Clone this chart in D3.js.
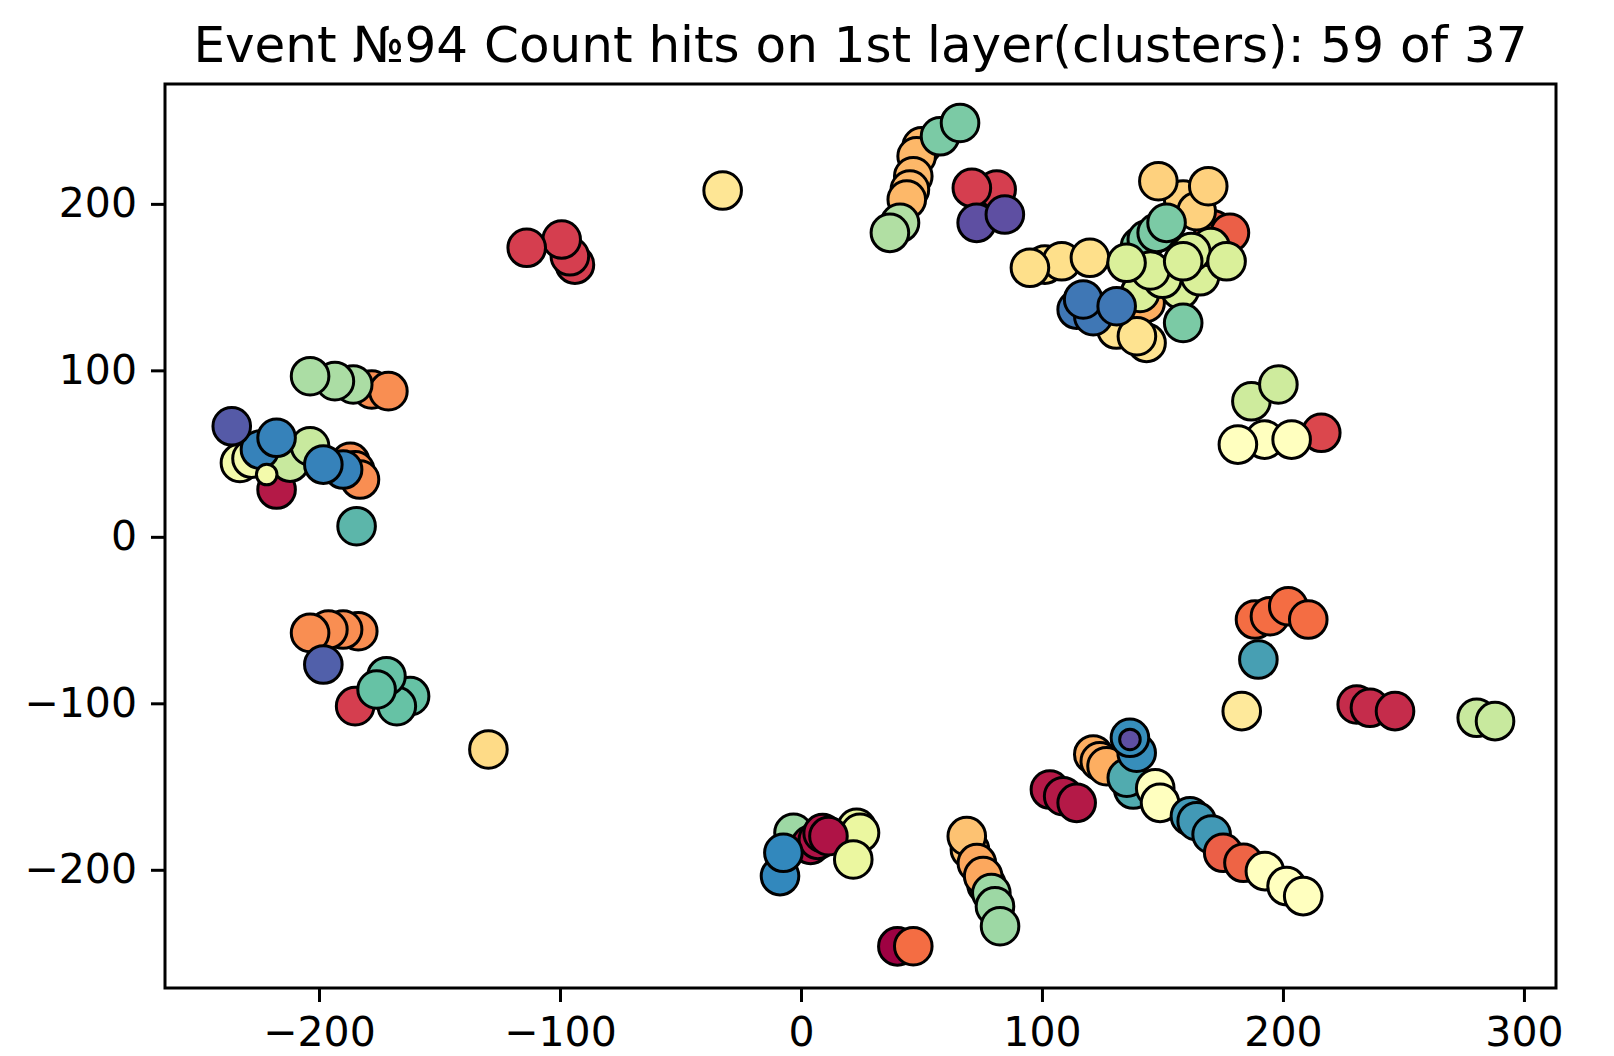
<!DOCTYPE html>
<html>
<head>
<meta charset="utf-8">
<script src="https://cdn.jsdelivr.net/npm/d3@7"></script>
<style>
  html, body { margin: 0; padding: 0; background: #ffffff; }
  svg { display: block; }
  text { font-family: "DejaVu Sans", sans-serif; fill: #000; }
</style>
</head>
<body>
<svg id="chart" width="1614" height="1056"></svg>
<script>
// Hits on the first detector layer: x / y position, cluster colour value (0..1 on Spectral)
const titleText = "Event №94 Count hits on 1st layer(clusters): 59 of 37";
const xTicks = [-200, -100, 0, 100, 200, 300];
const yTicks = [-200, -100, 0, 100, 200];

const hitX = [
  // upper-left row
  -178.1, -171.2, -185.8, -193.4, -203.7,
  // left group
  -217.6, -232.8, -228.0, -212.0, -203.7, -224.5, -187.0, -185.0, -183.0, -190.0, -198.2, -217.6, -236.2, -221.7, -184.4,
  // lower-left group
  -183.7, -190.0, -196.1, -203.7, -198.2, -185.0, -162.2, -167.7, -172.0, -176.1, -129.7,
  // red group, lone hit
  -93.8, -95.9, -99.3, -113.8, -32.5,
  // top diagonal
  50.1, 48.0, 46.6, 45.2, 43.9, 41.1, 36.9, 57.7, 66.0,
  81.2, 70.9, 72.9, 84.6,
  // top-right cluster
  171.1, 178.0, 158.6, 164.2, 148.3, 169.0, 143.0,
  101.2, 108.2, 95.0, 119.9,
  140.7, 143.5, 147.6, 151.7,
  140.7, 157.3, 165.6, 150.0, 145.0, 170.0, 162.0, 176.6, 135.1, 158.6,
  130.9, 143.4, 139.4,
  114.4, 121.3, 117.1, 131.0,
  158.6,
  // right side
  186.9, 198.1, 215.9, 192.4, 181.3, 203.6,
  188.4, 194.6, 202.2, 210.5, 189.8, 182.9,
  230.6, 236.1, 246.5, 280.4, 288.0,
  // lower-right diagonal
  103.3, 108.8, 114.4, 121.3, 124.0, 126.8, 137.9, 135.2, 139.3, 136.5, 136.5,
  147.0, 149.0, 161.4, 164.2, 170.4, 175.2, 183.6, 192.5, 201.5, 208.4,
  // bottom centre
  -3.1, 23.1, 24.5, 4.0, 7.0, 9.0, 11.4, -8.7, -7.3, 21.7,
  40.0, 46.6,
  70.1, 68.8, 73.0, 77.0, 75.6, 79.0, 80.5, 82.6
];

const hitY = [
  88.5, 87.5, 91.5, 93.5, 96.5,
  28.4, 44.4, 47.0, 44.6, 54.4, 52.4, 45.0, 40.0, 34.4, 40.4, 43.4, 59.5, 66.4, 37.4, 6.4,
  -56.7, -55.7, -55.7, -57.7, -76.7, -101.7, -95.7, -101.7, -83.7, -91.7, -127.7,
  163.5, 168.5, 178.6, 173.6, 208.0,
  234.6, 228.6, 216.6, 208.6, 202.6, 188.6, 182.6, 240.6, 248.6,
  208.6, 209.6, 188.6, 193.6,
  184.6, 182.6, 202.6, 195.6, 213.6, 210.6, 140.5,
  163.5, 165.5, 161.6, 167.6,
  174.5, 178.6, 182.6, 188.6,
  146.5, 148.5, 156.5, 155.0, 160.0, 174.0, 171.0, 165.5, 164.6, 165.5,
  124.5, 116.5, 120.5,
  136.5, 132.5, 142.6, 138.5,
  128.5,
  81.4, 91.5, 62.5, 58.4, 55.4, 58.4,
  -49.7, -47.7, -41.7, -49.7, -73.7, -104.7,
  -100.7, -102.7, -104.7, -108.7, -110.7,
  -151.8, -155.8, -159.8, -130.7, -134.8, -137.8, -151.8, -144.7, -129.7, -120.7, -121.7,
  -151.0, -159.8, -167.8, -170.8, -178.8, -189.8, -195.8, -200.8, -209.8, -215.8,
  -177.8, -174.8, -177.8, -185.0, -182.0, -178.0, -179.8, -203.8, -189.8, -193.8,
  -246.0, -245.9,
  -187.8, -179.8, -196.0, -209.0, -203.8, -214.0, -222.0, -233.9
];

const hitLabel = [
  0.25, 0.25, 0.70, 0.70, 0.70,
  0.04, 0.55, 0.55, 0.65, 0.65, 0.91, 0.25, 0.25, 0.25, 0.91, 0.91, 0.91, 0.98, 0.55, 0.82,
  0.25, 0.25, 0.25, 0.25, 0.97, 0.10, 0.80, 0.80, 0.80, 0.80, 0.39,
  0.10, 0.10, 0.10, 0.10, 0.42,
  0.32, 0.32, 0.32, 0.32, 0.32, 0.69, 0.69, 0.77, 0.77,
  0.10, 0.10, 1.00, 1.00,
  0.17, 0.17, 0.37, 0.37, 0.37, 0.37, 0.30,
  0.40, 0.40, 0.40, 0.40,
  0.77, 0.77, 0.77, 0.77,
  0.62, 0.62, 0.62, 0.62, 0.62, 0.62, 0.62, 0.62, 0.62, 0.62,
  0.41, 0.41, 0.41,
  0.93, 0.93, 0.93, 0.93,
  0.77,
  0.64, 0.64, 0.12, 0.50, 0.50, 0.50,
  0.20, 0.20, 0.20, 0.20, 0.86, 0.43,
  0.07, 0.07, 0.07, 0.65, 0.65,
  0.04, 0.04, 0.04, 0.30, 0.30, 0.30, 0.84, 0.84, 0.89, 0.89, 1.00,
  0.50, 0.50, 0.87, 0.87, 0.87, 0.17, 0.18, 0.50, 0.50, 0.50,
  0.72, 0.58, 0.58, 0.03, 0.03, 0.03, 0.03, 0.90, 0.90, 0.58,
  0.00, 0.20,
  0.34, 0.34, 0.29, 0.29, 0.29, 0.72, 0.72, 0.72
];

// hits drawn with the reduced marker area
const smallHits = [18, 109];
const markerArea = 100, smallMarkerArea = 30;

const svg = d3.select("#chart");
const W = 1614, H = 1056;
const margin = { left: 165, right: W - 1556, top: 84, bottom: H - 988 };
const plotW = W - margin.left - margin.right;
const plotH = H - margin.top - margin.bottom;

svg.append("rect").attr("width", W).attr("height", H).attr("fill", "#ffffff");

const x = d3.scaleLinear().domain([-263.9, 313.3]).range([margin.left, margin.left + plotW]);
const y = d3.scaleLinear().domain([-271, 272]).range([margin.top + plotH, margin.top]);
const r = d3.scaleSqrt().domain([0, 100]).range([0, 18.8]);

// Spectral colormap as linear segments between the ColorBrewer stops
const spectralStops = ["#9e0142", "#d53e4f", "#f46d43", "#fdae61", "#fee08b", "#ffffbf",
                       "#e6f598", "#abdda4", "#66c2a5", "#3288bd", "#5e4fa2"];
const color = d3.scaleLinear()
  .domain(d3.range(11).map(i => i / 10))
  .range(spectralStops)
  .interpolate(d3.interpolateRgb);

svg.append("clipPath").attr("id", "plot-clip")
  .append("rect").attr("x", margin.left).attr("y", margin.top)
  .attr("width", plotW).attr("height", plotH);

const hits = hitX.map((d, i) => ({
  x: d, y: hitY[i], c: hitLabel[i],
  s: smallHits.includes(i) ? smallMarkerArea : markerArea
}));

svg.append("g").attr("clip-path", "url(#plot-clip)")
  .selectAll("circle").data(hits).join("circle")
  .attr("cx", d => x(d.x))
  .attr("cy", d => y(d.y))
  .attr("r", d => r(d.s))
  .attr("fill", d => color(d.c))
  .attr("stroke", "#000")
  .attr("stroke-width", 3);

// axes
const xAxis = d3.axisBottom(x).tickValues(xTicks).tickSize(14).tickPadding(15);
const yAxis = d3.axisLeft(y).tickValues(yTicks).tickSize(14).tickPadding(14);

const gx = svg.append("g").attr("transform", `translate(0,${margin.top + plotH})`).call(xAxis);
const gy = svg.append("g").attr("transform", `translate(${margin.left},0)`).call(yAxis);
[gx, gy].forEach(g => {
  g.select(".domain").remove();
  g.selectAll(".tick line").attr("stroke", "#000").attr("stroke-width", 3);
  g.selectAll(".tick text").attr("font-size", 41).attr("font-family", "DejaVu Sans").attr("fill", "#000");
});

// frame
svg.append("rect")
  .attr("x", margin.left).attr("y", margin.top)
  .attr("width", plotW).attr("height", plotH)
  .attr("fill", "none").attr("stroke", "#000").attr("stroke-width", 3);

// title
svg.append("text")
  .attr("x", margin.left + plotW / 2)
  .attr("y", margin.top - 22)
  .attr("text-anchor", "middle")
  .attr("font-size", 50)
  .text(titleText);
</script>
</body>
</html>
